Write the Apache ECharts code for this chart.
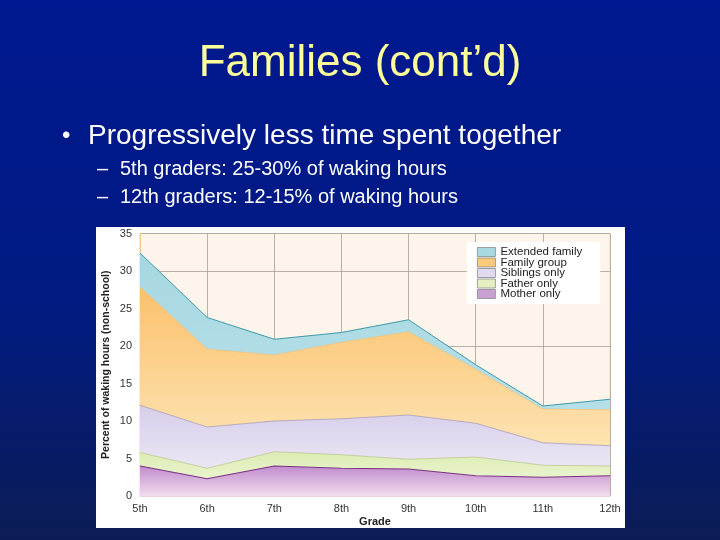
<!DOCTYPE html>
<html><head><meta charset="utf-8">
<script src="https://cdn.jsdelivr.net/npm/echarts@6/dist/echarts.min.js"></script>
<style>html,body{margin:0;padding:0;width:720px;height:540px;overflow:hidden;background:#001a90;}#c{width:720px;height:540px;}</style>
</head><body><div id="c"></div>
<script>
const grades = ['5th', '6th', '7th', '8th', '9th', '10th', '11th', '12th'];
const motherOnly = [4.0, 2.3, 4.0, 3.7, 3.6, 2.7, 2.5, 2.7];
const fatherOnly = [1.8, 1.4, 1.9, 1.8, 1.3, 2.5, 1.6, 1.3];
const siblingsOnly = [6.3, 5.5, 4.1, 4.8, 5.9, 4.5, 3.0, 2.7];
const familyGroup = [15.8, 10.4, 8.8, 10.2, 11.1, 7.2, 4.5, 4.8];
const extendedFamily = [4.5, 4.2, 2.1, 1.3, 1.6, 0.6, 0.4, 1.4];
const seriesNames = ['Extended family', 'Family group', 'Siblings only', 'Father only', 'Mother only'];
const slideTitle = 'Families (cont\u2019d)';
const bullet1 = 'Progressively less time spent together';
const sub1 = '5th graders: 25-30% of waking hours';
const sub2 = '12th graders: 12-15% of waking hours';

const FONT = '"Liberation Sans", Arial, Helvetica, sans-serif';
const G = echarts.graphic;
function vgrad(top, bottom) {
  return new G.LinearGradient(0, 0, 0, 1, [{offset: 0, color: top}, {offset: 1, color: bottom}]);
}
const swatch = {
  'Extended family': '#a8d8e2',
  'Family group': '#fcc97a',
  'Siblings only': '#e0daf0',
  'Father only': '#e4f0c2',
  'Mother only': '#c9a0d4'
};

function areaSeries(name, data, fill, line, lw) {
  return {
    name: name, type: 'line', stack: 'total', data: data,
    symbol: 'none', smooth: false,
    lineStyle: {color: line, width: lw},
    itemStyle: {color: swatch[name]},
    areaStyle: {color: fill, opacity: 1},
    emphasis: {disabled: true},
    z: 3
  };
}

const chart = echarts.init(document.getElementById('c'), null, {renderer: 'canvas'});
chart.setOption({
  animation: false,
  backgroundColor: new G.LinearGradient(0, 0, 0, 1, [
    {offset: 0, color: '#00188f'},
    {offset: 0.55, color: '#001a82'},
    {offset: 1, color: '#0b1c55'}
  ]),
  graphic: [
    {type: 'rect', shape: {x: 96, y: 227, width: 529, height: 301}, style: {fill: '#ffffff'}, z: -10, silent: true},
    {type: 'text', x: 360, y: 64, style: {text: slideTitle, fill: '#ffff99', font: '44px ' + FONT, textAlign: 'center', textVerticalAlign: 'middle'}},
    {type: 'text', x: 62, y: 136, style: {text: '\u2022', fill: '#ffffff', font: '24px ' + FONT, textAlign: 'left', textVerticalAlign: 'middle'}},
    {type: 'text', x: 88, y: 136, style: {text: bullet1, fill: '#ffffff', font: '28px ' + FONT, textAlign: 'left', textVerticalAlign: 'middle'}},
    {type: 'text', x: 97, y: 169, style: {text: '\u2013', fill: '#ffffff', font: '20px ' + FONT, textAlign: 'left', textVerticalAlign: 'middle'}},
    {type: 'text', x: 120, y: 169, style: {text: sub1, fill: '#ffffff', font: '20px ' + FONT, textAlign: 'left', textVerticalAlign: 'middle'}},
    {type: 'text', x: 97, y: 197, style: {text: '\u2013', fill: '#ffffff', font: '20px ' + FONT, textAlign: 'left', textVerticalAlign: 'middle'}},
    {type: 'text', x: 120, y: 197, style: {text: sub2, fill: '#ffffff', font: '20px ' + FONT, textAlign: 'left', textVerticalAlign: 'middle'}}
  ],
  grid: {left: 140, right: 110, top: 233.5, bottom: 44, show: true, backgroundColor: '#fdf5ec', borderColor: '#f6dcb8', borderWidth: 1, containLabel: false},
  legend: {
    orient: 'vertical', left: 467, top: 242,
    backgroundColor: '#ffffff',
    padding: [4, 18, 4, 10],
    itemWidth: 18, itemHeight: 9, itemGap: -1.5, itemTextGap: 9,
    icon: 'rect',
    textStyle: {fontSize: 11.5, color: '#222', fontFamily: FONT},
    data: seriesNames.map(n => ({name: n, itemStyle: {color: swatch[n], borderColor: '#8a8a8a', borderWidth: 0.8}}))
  },
  xAxis: {
    type: 'category', data: grades, boundaryGap: false,
    name: 'Grade', nameLocation: 'middle', nameGap: 20, nameMoveOverlap: false,
    nameTextStyle: {fontSize: 11, fontWeight: 'bold', color: '#222', fontFamily: FONT},
    axisLine: {show: true, lineStyle: {color: '#f0cfe0', width: 1}},
    axisTick: {show: false},
    axisLabel: {fontSize: 11, color: '#333', margin: 7, fontFamily: FONT, interval: 0},
    splitLine: {show: true, lineStyle: {color: '#a89f94', width: 0.8}}
  },
  yAxis: [
    {
      type: 'value', min: 0, max: 35, interval: 5,
      name: 'Percent of waking hours (non-school)', nameLocation: 'middle', nameGap: 28, nameMoveOverlap: false,
      nameTextStyle: {fontSize: 10.5, fontWeight: 'bold', color: '#222', fontFamily: FONT},
      axisLine: {show: true, lineStyle: {color: '#f3c98e', width: 1.2}},
      axisTick: {show: false},
      axisLabel: {fontSize: 11, color: '#333', margin: 8, fontFamily: FONT},
      splitLine: {show: false}
    },
    {
      type: 'value', min: 0, max: 35, interval: 10, position: 'left',
      axisLine: {show: false}, axisTick: {show: false}, axisLabel: {show: false},
      splitLine: {show: true, lineStyle: {color: '#a89f94', width: 0.8}}
    }
  ],
  series: [
    areaSeries('Mother only', motherOnly, vgrad('#c08ccd', '#f2dcec'), '#7a2f84', 1.2),
    areaSeries('Father only', fatherOnly, vgrad('#dcecb2', '#eaf4cf'), '#b9c98e', 0.8),
    areaSeries('Siblings only', siblingsOnly, vgrad('#d6cdea', '#ebe6f4'), '#a89cba', 0.8),
    areaSeries('Family group', familyGroup, vgrad('#fbc16c', '#fde3b2'), '#f2b868', 0.6),
    areaSeries('Extended family', extendedFamily, vgrad('#a6d7e1', '#b6e0e8'), '#3f99aa', 1)
  ]
});
</script>
</body></html>
